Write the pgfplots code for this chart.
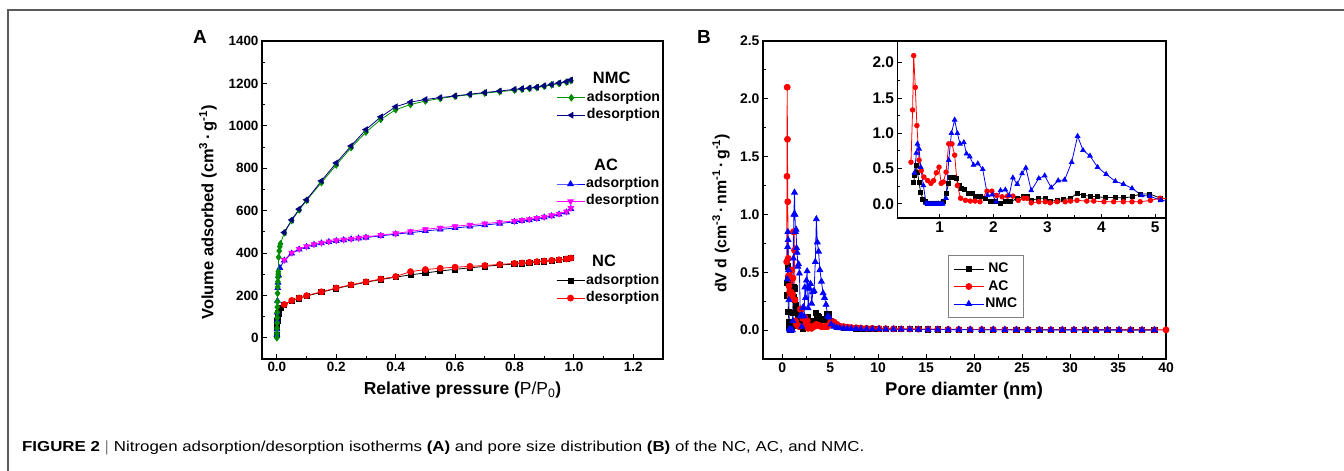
\documentclass[border=0pt]{standalone}
\usepackage{pgfplots}
\pgfplotsset{compat=1.18}
\usepackage{pgfplotstable}
\usepackage{fontspec}
\setmainfont{Liberation Sans}
\definecolor{nmcgreen}{RGB}{0,140,0}
\definecolor{navyc}{RGB}{0,0,128}
\definecolor{magc}{RGB}{255,0,255}
\definecolor{framegray}{RGB}{90,90,90}

% ---------- Panel A data ----------
\pgfplotstableread{
x y
0.0000 0
0.0003 20
0.0005 45
0.0008 70
0.0010 95
0.0013 120
0.0016 145
0.0020 170
0.0025 210
0.0030 240
0.0035 265
0.0040 285
0.0045 300
0.0050 312
0.0060 380
0.0080 410
0.0100 430
0.0120 443
0.025 495
0.05 553
0.075 603
0.1 648
0.15 732
0.2 815
0.25 897
0.3 970
0.35 1030
0.4 1076
0.45 1100
0.5 1117
0.55 1129
0.6 1139
0.65 1147
0.7 1154
0.75 1161
0.8 1168
0.825 1172
0.85 1176
0.875 1180
0.9 1186
0.925 1193
0.95 1199
0.975 1206
0.99 1213
}\nmcads
\pgfplotstableread{
x y
0.025 497
0.05 556
0.075 607
0.1 651
0.15 740
0.2 825
0.25 905
0.3 982
0.35 1042
0.4 1090
0.45 1112
0.5 1124
0.55 1133
0.6 1141
0.65 1149
0.7 1157
0.75 1164
0.8 1172
0.825 1175
0.85 1178
0.875 1182
0.9 1189
0.925 1195
0.95 1202
0.975 1208
0.99 1216
}\nmcdes
\pgfplotstableread{
x y
0.0001 15
0.0005 40
0.001 80
0.0015 120
0.002 175
0.003 235
0.004 260
0.006 295
0.01 330
0.025 365
0.05 398
0.075 417
0.1 429
0.125 439
0.15 446
0.175 452
0.2 457
0.225 461
0.25 465
0.275 469
0.3 473
0.35 481
0.4 489
0.45 496
0.5 504
0.55 511
0.6 518
0.65 525
0.7 532
0.75 539
0.8 547
0.825 551
0.85 555
0.875 561
0.9 568
0.925 574
0.95 582
0.975 592
0.99 608
}\acads
\pgfplotstableread{
x y
0.025 367
0.05 401
0.075 419
0.1 431
0.125 441
0.15 448
0.175 454
0.2 459
0.225 463
0.25 467
0.275 471
0.3 476
0.35 484
0.4 492
0.45 502
0.5 512
0.55 519
0.6 526
0.65 533
0.7 539
0.75 545
0.8 551
0.825 555
0.85 559
0.875 564
0.9 570
0.925 577
0.95 585
0.975 595
0.99 612
}\acdes
\pgfplotstableread{
x y
0.0002 15
0.001 50
0.002 80
0.003 100
0.005 115
0.008 130
0.012 140
0.025 155
0.05 174
0.075 186
0.1 197
0.15 215
0.2 233
0.25 248
0.3 262
0.35 275
0.4 286
0.45 297
0.5 306
0.55 315
0.6 323
0.65 330
0.7 337
0.75 343
0.8 348
0.825 351
0.85 354
0.875 357
0.9 360
0.925 364
0.95 367
0.975 371
0.99 375
}\ncads
\pgfplotstableread{
x y
0.025 157
0.05 176
0.075 188
0.1 199
0.15 217
0.2 235
0.25 250
0.3 264
0.35 277
0.4 289
0.45 312
0.5 322
0.55 328
0.6 333
0.65 337
0.7 341
0.75 346
0.8 351
0.825 353
0.85 356
0.875 359
0.9 362
0.925 365
0.95 368
0.975 372
0.99 376
}\ncdes

% ---------- Panel B data ----------
\pgfplotstableread{
x y
0.52 0.30
0.54 0.41
0.57 0.55
0.59 0.45
0.62 0.30
0.65 0.16
0.69 0.07
0.73 0.03
0.78 0.01
0.86 0.005
0.94 0.005
1.02 0.01
1.07 0.04
1.12 0.15
1.17 0.29
1.21 0.37
1.26 0.37
1.31 0.36
1.36 0.26
1.41 0.22
1.46 0.20
1.54 0.15
1.60 0.15
1.66 0.11
1.75 0.10
1.85 0.08
1.94 0.03
2.03 0.03
2.13 0.01
2.22 0.03
2.32 0.03
2.44 0.08
2.55 0.10
2.62 0.11
2.71 0.05
2.84 0.08
2.96 0.08
3.05 0.04
3.18 0.05
3.30 0.06
3.43 0.08
3.55 0.15
3.67 0.12
3.80 0.11
3.92 0.10
4.08 0.09
4.26 0.09
4.41 0.085
4.57 0.10
4.72 0.14
4.90 0.14
5.10 0.08
5.4 0.05
5.7 0.03
6.0 0.025
6.4 0.02
6.8 0.018
7.2 0.016
7.7 0.014
8.2 0.013
8.8 0.012
9.4 0.011
10.1 0.010
10.8 0.009
11.6 0.008
12.4 0.008
13.3 0.007
14.2 0.007
15.2 0.006
16.2 0.006
17.3 0.005
18.4 0.005
19.6 0.005
20.8 0.004
22.0 0.004
23.2 0.004
24.4 0.004
25.6 0.003
26.8 0.003
28.0 0.003
29.2 0.003
30.4 0.003
31.6 0.003
32.7 0.002
33.9 0.002
35.1 0.002
36.3 0.002
37.5 0.002
38.8 0.002
}\psdnc
\pgfplotstableread{
x y
0.47 0.59
0.50 1.33
0.52 2.10
0.55 1.65
0.58 1.11
0.62 0.62
0.66 0.47
0.71 0.38
0.78 0.33
0.84 0.29
0.89 0.33
0.94 0.44
0.99 0.52
1.03 0.29
1.07 0.31
1.12 0.45
1.17 0.85
1.23 0.85
1.28 0.69
1.33 0.26
1.39 0.08
1.48 0.05
1.57 0.04
1.66 0.04
1.75 0.03
1.88 0.18
1.97 0.18
2.06 0.12
2.16 0.10
2.26 0.11
2.36 0.11
2.46 0.05
2.56 0.08
2.62 0.08
2.70 0.015
2.84 0.03
2.96 0.03
3.05 0.015
3.18 0.03
3.33 0.03
3.43 0.04
3.55 0.05
3.73 0.04
3.86 0.04
4.05 0.03
4.23 0.03
4.41 0.03
4.57 0.03
4.72 0.03
4.91 0.05
5.09 0.08
5.4 0.07
5.7 0.05
6.0 0.035
6.4 0.03
6.8 0.025
7.2 0.022
7.7 0.020
8.2 0.018
8.8 0.016
9.4 0.015
10.1 0.013
10.8 0.012
11.6 0.011
12.4 0.010
13.3 0.009
14.2 0.008
15.2 0.008
16.2 0.007
17.3 0.006
18.4 0.006
19.6 0.005
20.8 0.005
22.0 0.005
23.2 0.004
24.4 0.004
25.6 0.004
26.8 0.004
28.0 0.003
29.2 0.003
30.4 0.003
31.6 0.003
32.7 0.003
33.9 0.003
35.1 0.002
36.3 0.002
37.5 0.002
38.8 0.002
40.0 0.002
}\psdac
\pgfplotstableread{
x y
0.535 0.44
0.57 0.72
0.59 0.85
0.62 0.78
0.65 0.52
0.70 0.26
0.75 0.01
0.78 0.0
0.82 0.0
0.86 0.0
0.90 0.0
0.94 0.0
0.98 0.0
1.02 0.0
1.06 0.0
1.12 0.08
1.17 0.62
1.22 1.00
1.28 1.19
1.33 1.00
1.38 0.85
1.45 0.87
1.50 0.71
1.56 0.67
1.63 0.55
1.71 0.57
1.80 0.49
1.89 0.12
1.98 0.13
2.05 0.03
2.13 0.19
2.22 0.20
2.29 0.12
2.36 0.37
2.44 0.28
2.53 0.43
2.60 0.51
2.70 0.19
2.84 0.36
2.95 0.40
3.07 0.23
3.20 0.33
3.32 0.34
3.45 0.59
3.56 0.96
3.66 0.76
3.79 0.68
3.93 0.52
4.09 0.42
4.26 0.32
4.41 0.28
4.57 0.22
4.75 0.12
4.90 0.11
5.10 0.05
5.4 0.03
5.7 0.02
6.0 0.018
6.4 0.015
6.8 0.013
7.2 0.012
7.7 0.011
8.2 0.010
8.8 0.009
9.4 0.008
10.1 0.008
10.8 0.007
11.6 0.007
12.4 0.006
13.3 0.006
14.2 0.005
15.2 0.005
16.2 0.005
17.3 0.004
18.4 0.004
19.6 0.004
20.8 0.003
22.0 0.003
23.2 0.003
24.4 0.003
25.6 0.003
26.8 0.002
28.0 0.002
29.2 0.002
30.4 0.002
31.6 0.002
32.7 0.002
33.9 0.002
35.1 0.002
36.3 0.001
37.5 0.001
38.8 0.001
}\psdnmc

\pgfplotsset{
  frame/.style={
    scale only axis,
    axis line style={line width=1.3bp},
    tick style={line width=0.9bp, black},
    tick align=inside,
    tick pos=left,
    major tick length=5bp,
    minor tick length=3bp,
    tick label style={font=\fontsize{13.5}{15}\selectfont\bfseries},
    /pgf/number format/assume math mode=true,
    /pgf/number format/1000 sep={},
  },
  panelA/.style={
    width=401bp, height=318bp, at={(262bp,112bp)}, anchor=south west,
    scale only axis,
    xmin=-0.05, xmax=1.3, ymin=-100, ymax=1400,
  },
  leglineA/.style={
    legend image code/.code={\draw[mark repeat=2,mark phase=2] plot coordinates {(0bp,0bp) (14bp,0bp) (28bp,0bp)};},
    legend style={draw=none, fill=none, anchor=north west, inner sep=0pt, row sep=0pt,
      font=\fontsize{14.2}{16}\selectfont\bfseries,
      cells={anchor=west},
      nodes={inner sep=1.2bp, text height=11bp, text depth=4bp},
      /tikz/every even column/.append style={column sep=2bp}},
  },
  lineB/.style={line width=0.8bp},
}

\begin{document}
\begin{tikzpicture}
\path[use as bounding box] (0,0) rectangle (1344bp,471bp);
\draw[framegray, line width=1.5bp] (8bp,0bp) -- (8bp,461bp) -- (1344bp,461bp);

\node[font=\fontsize{19}{21}\selectfont\bfseries] at (200bp,434bp) {A};
\node[font=\fontsize{19}{21}\selectfont\bfseries] at (704bp,434.5bp) {B};

\node[anchor=base west, inner sep=0pt] at (22bp,19bp) {\resizebox{842bp}{\height}{\fontsize{14.5}{16}\selectfont\textbf{FIGURE 2} $|$ Nitrogen adsorption/desorption isotherms \textbf{(A)} and pore size distribution \textbf{(B)} of the NC, AC, and NMC.}};

% ---------- Panel A: NC (framed axis) ----------
\begin{axis}[frame, panelA, leglineA,
  xtick={0,0.2,...,1.2}, minor x tick num=1,
  ytick={0,200,...,1400}, minor y tick num=1,
  xticklabel style={/pgf/number format/.cd, fixed, fixed zerofill, precision=1},
  xlabel={Relative pressure ({\mdseries P/P\textsubscript{0}})},
  ylabel={Volume adsorbed (cm\textsuperscript{3}\,·\,g\textsuperscript{-1})},
  every axis x label/.style={at={(axis description cs:0.5,-0.0975)}, anchor=center, font=\fontsize{17.5}{19}\selectfont\bfseries},
  every axis y label/.style={at={(axis description cs:-0.135,0.461)}, anchor=center, rotate=90, font=\fontsize{16.5}{18}\selectfont\bfseries},
  legend style={at={(rel axis cs:0.733,0.329)}},
]
\addlegendimage{empty legend}\addlegendentry{\fontsize{16.5}{18}\selectfont\hspace{6bp}NC}
\addplot[black, line width=0.8bp, mark=square*, mark size=2.6bp] table {\ncads};
\addlegendentry{adsorption}
\addplot[red, line width=0.8bp, mark=*, mark size=3bp] table {\ncdes};
\addlegendentry{desorption}
\end{axis}

% ---------- Panel A: AC ----------
\begin{axis}[panelA, hide axis, leglineA,
  legend style={at={(rel axis cs:0.733,0.633)}},
]
\addlegendimage{empty legend}\addlegendentry{\fontsize{16.5}{18}\selectfont\hspace{8bp}AC}
\addplot[blue, line width=0.8bp, mark=triangle*, mark size=3.2bp] table {\acads};
\addlegendentry{adsorption}
\addplot[magc, line width=0.8bp, mark=triangle*, mark size=3.2bp, mark options={rotate=180}] table {\acdes};
\addlegendentry{desorption}
\end{axis}

% ---------- Panel A: NMC ----------
\begin{axis}[panelA, hide axis, leglineA,
  legend style={at={(rel axis cs:0.735,0.904)}},
]
\addlegendimage{empty legend}\addlegendentry{\fontsize{16.5}{18}\selectfont\hspace{6bp}NMC}
\addplot[nmcgreen, line width=0.8bp, mark=diamond*, mark size=3.2bp] table {\nmcads};
\addlegendentry{adsorption}
\addplot[navyc, line width=0.8bp, mark=triangle*, mark size=3.2bp, mark options={rotate=90}] table {\nmcdes};
\addlegendentry{desorption}
\end{axis}

% ---------- Panel B main ----------
\begin{axis}[frame,
  width=403bp, height=318bp, at={(763bp,112bp)}, anchor=south west,
  xmin=-2, xmax=40, ymin=-0.25, ymax=2.5,
  xtick={0,5,...,40}, minor x tick num=1,
  ytick={0,0.5,...,2.5}, minor y tick num=1,
  tick label style={font=\fontsize{14}{16}\selectfont\bfseries},
  yticklabel style={/pgf/number format/.cd, fixed, fixed zerofill, precision=1},
  xlabel={Pore diamter (nm)},
  ylabel={dV d (cm\textsuperscript{-3}\,·\,nm\textsuperscript{-1}\,·\,g\textsuperscript{-1})},
  every axis x label/.style={at={(axis description cs:0.499,-0.10)}, anchor=center, font=\fontsize{18.5}{20}\selectfont\bfseries},
  every axis y label/.style={at={(axis description cs:-0.104,0.4575)}, anchor=center, rotate=90, font=\fontsize{16}{18}\selectfont\bfseries},
  legend image code/.code={\draw[mark repeat=2,mark phase=2] plot coordinates {(0bp,0bp) (15bp,0bp) (30bp,0bp)};},
  legend style={at={(rel axis cs:0.459,0.327)}, anchor=north west, draw=gray, line width=0.8bp, fill=white,
    inner xsep=5bp, inner ysep=5bp, row sep=0pt,
    font=\fontsize{14}{16}\selectfont\bfseries,
    cells={anchor=west},
    nodes={inner sep=1.2bp, text height=11bp, text depth=4bp},
    /tikz/every even column/.append style={column sep=3bp}},
]
\addplot[black, lineB, mark=square*, mark size=2.6bp] table {\psdnc};
\addlegendentry{\hspace{3bp}NC}
\addplot[red, lineB, mark=*, mark size=3bp] table {\psdac};
\addlegendentry{\hspace{3bp}AC}
\addplot[blue, lineB, mark=triangle*, mark size=3.3bp] table {\psdnmc};
\addlegendentry{NMC}
\end{axis}

% ---------- Panel B inset ----------
\begin{axis}[frame,
  width=268.5bp, height=176.5bp, at={(897.5bp,253bp)}, anchor=south west,
  axis background/.style={fill=white},
  xmin=0.22, xmax=5.2, ymin=-0.2, ymax=2.3,
  xtick={1,2,3,4,5}, minor x tick num=1,
  ytick={0,0.5,...,2.0}, minor y tick num=1,
  axis line style={line width=1.1bp},
  major tick length=4bp, minor tick length=2.5bp,
  tick label style={font=\fontsize{15.5}{17}\selectfont\bfseries},
  yticklabel style={/pgf/number format/.cd, fixed, fixed zerofill, precision=1},
]
\addplot[black, lineB, mark=square*, mark size=2bp] table {\psdnc};
\addplot[red, lineB, mark=*, mark size=2.3bp] table {\psdac};
\addplot[blue, lineB, mark=triangle*, mark size=2.6bp] table {\psdnmc};
\end{axis}
\end{tikzpicture}
\end{document}
